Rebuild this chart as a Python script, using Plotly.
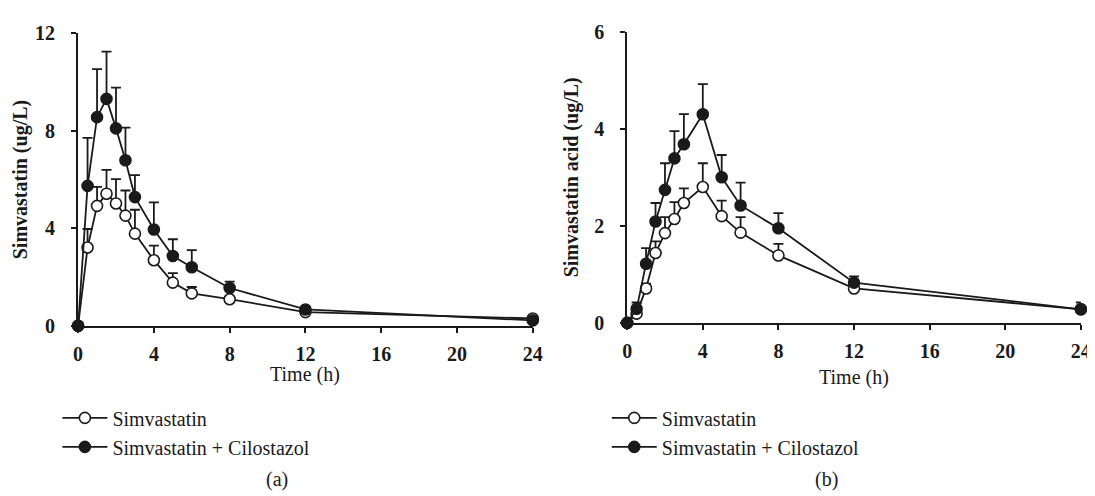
import plotly.graph_objects as go

time_h = [0, 0.5, 1, 1.5, 2, 2.5, 3, 4, 5, 6, 8, 12, 24]

# Panel (a): Simvastatin
a_simva = [0, 3.21, 4.92, 5.42, 5.02, 4.52, 3.78, 2.69, 1.77, 1.33, 1.09, 0.56, 0.30]
a_simva_err = [0, 0.76, 0.78, 0.98, 1.00, 1.03, 0.98, 0.60, 0.39, 0.26, 0.10, 0.05, 0.03]
a_combo = [0, 5.74, 8.56, 9.31, 8.10, 6.79, 5.28, 3.95, 2.86, 2.40, 1.55, 0.67, 0.22]
a_combo_err = [0, 1.97, 1.97, 1.94, 1.67, 1.34, 0.90, 1.11, 0.69, 0.70, 0.26, 0.08, 0.05]

# Panel (b): Simvastatin acid
b_simva = [0, 0.19, 0.71, 1.44, 1.85, 2.14, 2.47, 2.80, 2.20, 1.86, 1.39, 0.71, 0.28]
b_simva_err = [0, 0.05, 0.10, 0.24, 0.33, 0.35, 0.30, 0.49, 0.32, 0.32, 0.24, 0.08, 0.05]
b_combo = [0, 0.29, 1.22, 2.09, 2.74, 3.39, 3.68, 4.30, 3.00, 2.42, 1.95, 0.83, 0.28]
b_combo_err = [0, 0.13, 0.32, 0.38, 0.55, 0.56, 0.62, 0.62, 0.46, 0.47, 0.31, 0.13, 0.14]

series_names = ["Simvastatin", "Simvastatin + Cilostazol"]
x_ticks = [0, 4, 8, 12, 16, 20, 24]
a_y_ticks = [0, 4, 8, 12]
b_y_ticks = [0, 2, 4, 6]

SERIF = "Times New Roman, Liberation Serif, serif"
INK = "#1a1a1a"

fig = go.Figure()


def add_series(x, y, err, name, filled, xa, ya, legend):
    fig.add_trace(go.Scatter(
        x=x, y=y, name=name, mode="lines+markers",
        xaxis=xa, yaxis=ya, legend=legend, cliponaxis=False,
        line=dict(color=INK, width=1.8),
        marker=dict(size=11, symbol="circle",
                    color=INK if filled else "white",
                    line=dict(color=INK, width=1.6)),
        error_y=dict(type="data", array=err, arrayminus=[0] * len(err),
                     symmetric=False, color=INK, thickness=1.8, width=5),
    ))


add_series(time_h, a_simva, a_simva_err, series_names[0], False, "x", "y", "legend")
add_series(time_h, a_combo, a_combo_err, series_names[1], True, "x", "y", "legend")
add_series(time_h, b_simva, b_simva_err, series_names[0], False, "x2", "y2", "legend2")
add_series(time_h, b_combo, b_combo_err, series_names[1], True, "x2", "y2", "legend2")

W, H = 1095, 496


def px_x(p):
    return p / W


def px_y(p):
    return (H - p) / H


def bold_labels(vals):
    return [f"<b>{v}</b>" for v in vals]


axis_common = dict(
    showline=True, linecolor=INK, linewidth=2,
    ticks="outside", ticklen=5, tickwidth=2, tickcolor=INK,
    showgrid=False, zeroline=False,
    tickfont=dict(family=SERIF, size=20, color=INK, weight=700),
)

legend_common = dict(xanchor="left", yanchor="top", bgcolor="rgba(0,0,0,0)",
                     font=dict(family=SERIF, size=20, color=INK),
                     tracegroupgap=0, itemwidth=45)

text_font = dict(family=SERIF, size=20, color=INK)

fig.update_layout(
    width=W, height=H,
    margin=dict(l=0, r=0, t=0, b=0),
    paper_bgcolor="white", plot_bgcolor="white",
    font=dict(family=SERIF, color=INK),
    xaxis=dict(domain=[px_x(66), px_x(527)], range=[0, 24],
               tickvals=x_ticks, ticktext=bold_labels(x_ticks),
               anchor="y", ticklabelstandoff=4, **axis_common),
    yaxis=dict(domain=[px_y(321), px_y(15)], range=[0, 12],
               tickvals=a_y_ticks, ticktext=bold_labels(a_y_ticks),
               anchor="x", ticklabelstandoff=12,
               title=dict(text="<b>Simvastatin (ug/L)</b>",
                          font=dict(family=SERIF, size=20, weight=700), standoff=2),
               **axis_common),
    xaxis2=dict(domain=[px_x(622.7), px_x(1082.7)], range=[0, 24],
                tickvals=x_ticks, ticktext=bold_labels(x_ticks),
                anchor="y2", ticklabelstandoff=4, **axis_common),
    yaxis2=dict(domain=[px_y(318), px_y(13.3)], range=[0, 6],
                tickvals=b_y_ticks, ticktext=bold_labels(b_y_ticks),
                anchor="x2", ticklabelstandoff=12,
                title=dict(text="<b>Simvastatin acid (ug/L)</b>",
                           font=dict(family=SERIF, size=20, weight=700), standoff=10),
                **axis_common),
    legend=dict(x=px_x(45), y=px_y(397), **legend_common),
    legend2=dict(x=px_x(602), y=px_y(397), **legend_common),
    annotations=[
        dict(text="Time (h)", x=0.5, y=px_y(372), xref="x domain", yref="paper",
             xanchor="center", yanchor="middle", showarrow=False, font=text_font),
        dict(text="Time (h)", x=0.5, y=px_y(375), xref="x2 domain", yref="paper",
             xanchor="center", yanchor="middle", showarrow=False, font=text_font),
        dict(text="(a)", x=px_x(268), y=px_y(482), xref="paper", yref="paper",
             xanchor="center", yanchor="middle", showarrow=False, font=text_font),
        dict(text="(b)", x=px_x(825), y=px_y(482), xref="paper", yref="paper",
             xanchor="center", yanchor="middle", showarrow=False, font=text_font),
    ],
)

fig.write_html("out.html")
